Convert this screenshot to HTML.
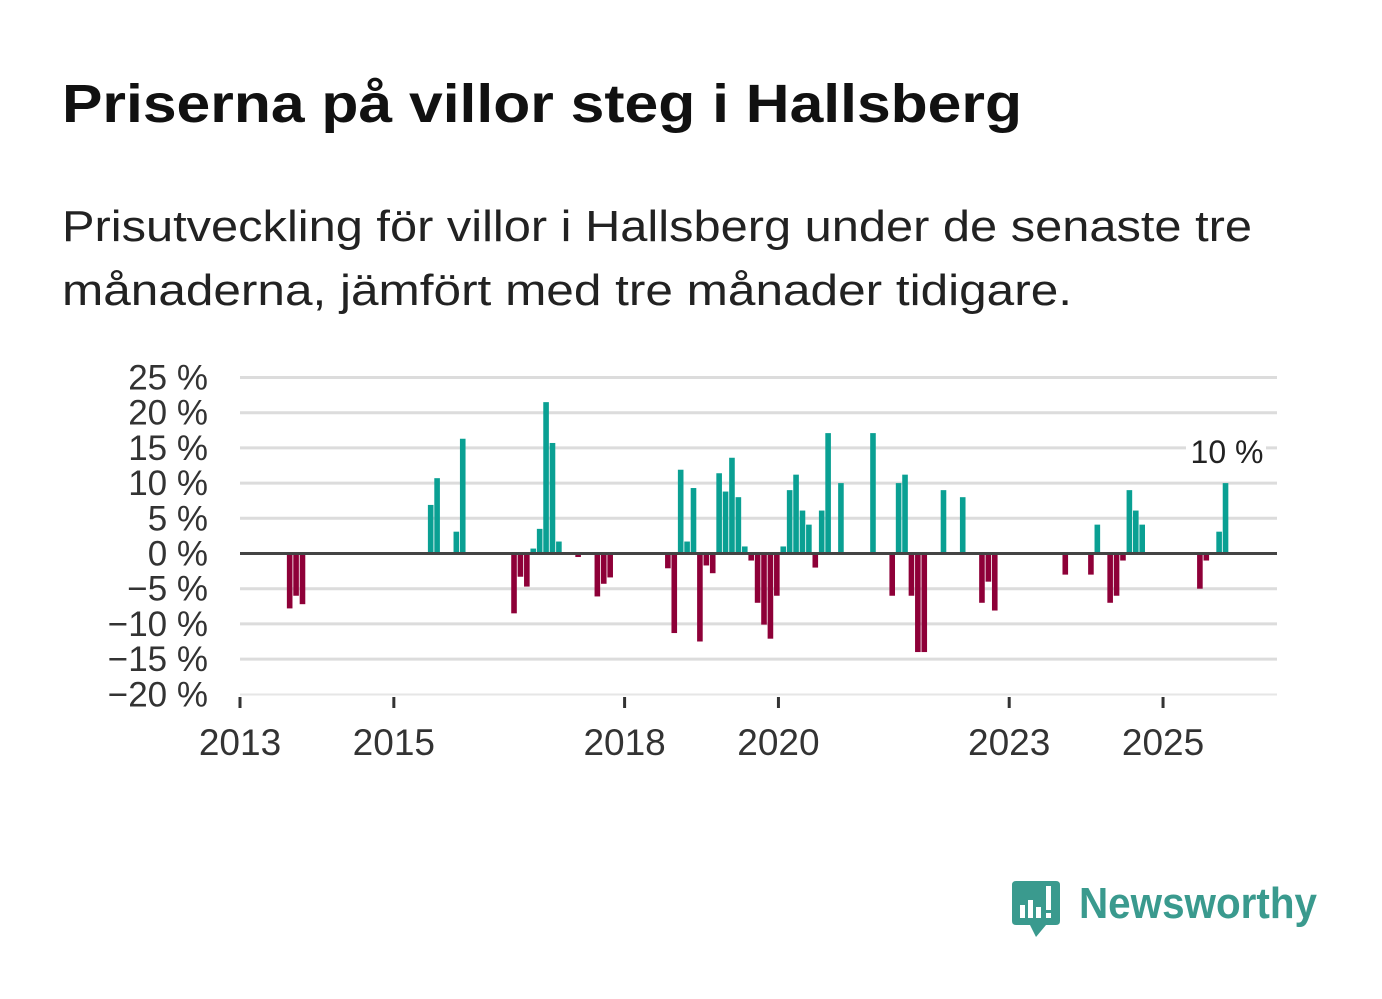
<!DOCTYPE html>
<html><head><meta charset="utf-8"><style>
body{margin:0;background:#fff;width:1382px;height:999px;overflow:hidden;font-family:"Liberation Sans","DejaVu Sans",sans-serif;}
svg{position:absolute;left:0;top:0}
</style></head><body>
<svg width="1382" height="999" id="chart">
<text x="62" y="122" font-size="54" font-weight="bold" fill="#111" textLength="960" lengthAdjust="spacingAndGlyphs">Priserna på villor steg i Hallsberg</text>
<text x="62" y="241" font-size="44" fill="#222" textLength="1190" lengthAdjust="spacingAndGlyphs">Prisutveckling för villor i Hallsberg under de senaste tre</text>
<text x="62" y="305" font-size="44" fill="#222" textLength="1010" lengthAdjust="spacingAndGlyphs">månaderna, jämfört med tre månader tidigare.</text>
<g id="grid"></g><g id="bars"></g><g id="axes"></g>
<g>
<path d="M1016 881 H1056 Q1060 881 1060 885 V921 Q1060 925 1056 925 H1046 L1036 937 L1030 925 H1016 Q1012 925 1012 921 V885 Q1012 881 1016 881 Z" fill="#3a9a8e"/>
<rect x="1020" y="905" width="5" height="13" fill="#fff"/><rect x="1028" y="900" width="5" height="18" fill="#fff"/><rect x="1036" y="907" width="5" height="11" fill="#fff"/><rect x="1046" y="886" width="5" height="24" fill="#fff"/><rect x="1046" y="913" width="5" height="5" fill="#fff"/>
<text x="1079" y="918" font-size="44" font-weight="bold" fill="#3a9a8e" textLength="238" lengthAdjust="spacingAndGlyphs">Newsworthy</text>
</g>
</svg>
<script>
const months=["2013-08","2013-09","2013-10","2015-06","2015-07","2015-10","2015-11","2016-07","2016-08","2016-09","2016-10","2016-11","2016-12","2017-01","2017-02","2017-05","2017-08","2017-09","2017-10","2018-07","2018-08","2018-09","2018-10","2018-11","2018-12","2019-01","2019-02","2019-03","2019-04","2019-05","2019-06","2019-07","2019-08","2019-09","2019-10","2019-11","2019-12","2020-01","2020-02","2020-03","2020-04","2020-05","2020-06","2020-07","2020-08","2020-10","2021-03","2021-06","2021-07","2021-08","2021-09","2021-10","2021-11","2022-02","2022-05","2022-08","2022-09","2022-10","2023-09","2024-01","2024-02","2024-04","2024-05","2024-06","2024-07","2024-08","2024-09","2025-06","2025-07","2025-09","2025-10"];
const values=[-7.8,-6.0,-7.2,6.9,10.7,3.1,16.3,-8.5,-3.3,-4.7,0.7,3.5,21.5,15.7,1.7,-0.5,-6.1,-4.3,-3.4,-2.1,-11.3,11.9,1.7,9.3,-12.5,-1.7,-2.8,11.4,8.8,13.6,8.0,1.0,-1.0,-7.0,-10.1,-12.1,-6.0,1.0,9.0,11.2,6.1,4.1,-2.0,6.1,17.1,10.0,17.1,-6.0,10.0,11.2,-6.0,-14.0,-14.0,9.0,8.0,-7.0,-4.0,-8.1,-3.0,-3.0,4.1,-7.0,-6.0,-1.0,9.0,6.1,4.1,-5.0,-1.0,3.1,10.0];
const yTicks=[25,20,15,10,5,0,-5,-10,-15,-20];
const xTicks=[2013,2015,2018,2020,2023,2025];
const NS="http://www.w3.org/2000/svg";
const x=t=>240+(t-2013)*76.92;
const y=v=>553.5-v*7.04;
function mk(tag,attrs,parent){const e=document.createElementNS(NS,tag);for(const k in attrs)e.setAttribute(k,attrs[k]);document.getElementById(parent).appendChild(e);return e;}
yTicks.forEach(v=>{
 if(v!==0&&v!==-20){const l=mk('line',{x1:240,x2:1277,y1:y(v),y2:y(v),stroke:'#dcdcdc','stroke-width':3},'grid');
 
 }
 const t=mk('text',{x:208,y:y(v)+12,'font-size':35,'text-anchor':'end',fill:'#333'},'axes');
 t.textContent=(v<0?'\u2212'+(-v):v)+' %';
 
 
});
const bl=mk('line',{x1:240,x2:1277,y1:694.5,y2:694.5,stroke:'#e6e6e6','stroke-width':2},'grid');


months.forEach((m,i)=>{
 const [yr,mo]=m.split('-').map(Number);
 const t=yr+(mo-1)/12;const v=values[i];
 const r=mk('rect',{x:x(t)+2,width:5.6,y:Math.min(y(v),y(0)),height:Math.abs(y(v)-y(0)),fill:v>=0?'#0aa093':'#8e0038'},'bars');
 
 
});
const z=mk('line',{x1:240,x2:1277,y1:y(0),y2:y(0),stroke:'#444','stroke-width':3},'axes');


xTicks.forEach(yr=>{
 const tk=mk('line',{x1:x(yr),x2:x(yr),y1:697,y2:708,stroke:'#333','stroke-width':3},'axes');
 
 
 const t=mk('text',{x:x(yr),y:755,'font-size':37,'text-anchor':'middle',fill:'#333'},'axes');
 t.textContent=yr;
 
 
});
const lastV=values[values.length-1];
mk('rect',{x:1186,y:y(lastV)-50,width:80,height:36,fill:'#fff'},'axes');
const lab=mk('text',{x:1227,y:y(lastV)-20,'font-size':32,'text-anchor':'middle',fill:'#222'},'axes');
lab.textContent=Math.round(lastV)+' %';


</script>
</body></html>
